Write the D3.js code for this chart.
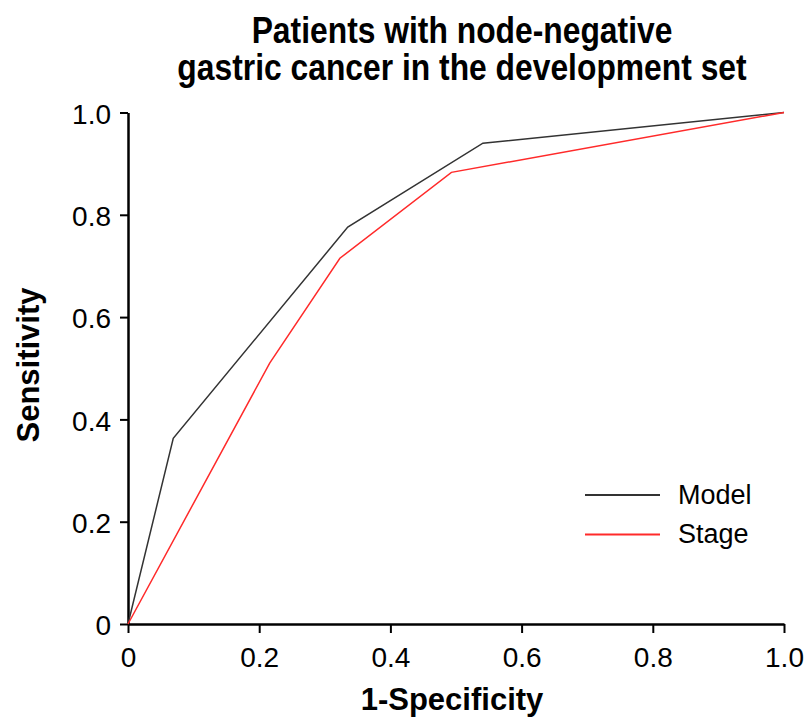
<!DOCTYPE html>
<html><head><meta charset="utf-8">
<script src="https://cdn.jsdelivr.net/npm/d3@7"></script>
<style>body{margin:0;background:#fff;} text{font-family:"Liberation Sans",Arial,sans-serif;}</style>
</head><body><svg id="c" width="804" height="717"></svg>
<script>
const titleLines = ["Patients with node-negative", "gastric cancer in the development set"];
const xTicks = [0, 0.2, 0.4, 0.6, 0.8, 1.0];
const yTicks = [0, 0.2, 0.4, 0.6, 0.8, 1.0];
const modelFPR = [0, 0.069, 0.335, 0.541, 1.0];
const modelTPR = [0, 0.363, 0.776, 0.940, 1.0];
const stageFPR = [0, 0.216, 0.323, 0.493, 1.0];
const stageTPR = [0, 0.510, 0.715, 0.883, 1.0];
const seriesNames = ["Model", "Stage"];
const seriesColors = ["#333333", "#ff2a2a"];

const svg = d3.select("#c");
const x = d3.scaleLinear().domain([0, 1]).range([128, 784]);
const y = d3.scaleLinear().domain([0, 1]).range([624, 112.5]);

const fmt = d => d === 0 ? "0" : d3.format(".1f")(d);

const xAxis = svg.append("g").attr("transform", "translate(0,624)")
  .call(d3.axisBottom(x).tickValues(xTicks).tickFormat(fmt).tickSize(9).tickSizeOuter(0));
const yAxis = svg.append("g").attr("transform", "translate(128,0)")
  .call(d3.axisLeft(y).tickValues(yTicks).tickFormat(fmt).tickSize(8).tickSizeOuter(0));
[xAxis, yAxis].forEach(a => {
  a.selectAll("path.domain").attr("stroke", "#000").attr("stroke-width", 2.5);
  a.selectAll(".tick line").attr("stroke", "#000").attr("stroke-width", 2);
  a.selectAll(".tick text").attr("fill", "#000").style("font-size", "28px");
});
xAxis.selectAll(".tick text").attr("y", 43).attr("dy", 0);
yAxis.selectAll(".tick text").attr("x", -17).attr("dy", "0.38em");

const series = [
  {name: seriesNames[0], xs: modelFPR, ys: modelTPR, color: seriesColors[0]},
  {name: seriesNames[1], xs: stageFPR, ys: stageTPR, color: seriesColors[1]}
];
const line = d3.line().x(d => x(d[0])).y(d => y(d[1]));
series.forEach(s => {
  svg.append("path").datum(s.xs.map((v, i) => [v, s.ys[i]]))
    .attr("d", line).attr("fill", "none").attr("stroke", s.color).attr("stroke-width", 1.5);
});

// legend
series.forEach((s, i) => {
  const ly = 495 + i * 39.5;
  svg.append("line").attr("x1", 585).attr("x2", 660).attr("y1", ly).attr("y2", ly)
    .attr("stroke", s.color).attr("stroke-width", 2.2);
  svg.append("text").attr("x", 678).attr("y", ly + 8.5).style("font-size", "27px").attr("fill", "#000").text(s.name);
});

// title (condensed bold)
const tg = svg.append("g").attr("transform", "translate(462,0) scale(0.86,1)");
tg.selectAll("text").data(titleLines).join("text")
  .attr("text-anchor", "middle").attr("x", 0).attr("y", (d, i) => 43 + i * 37)
  .style("font-size", "37px").style("font-weight", "bold").text(d => d);

svg.append("text").attr("text-anchor", "middle").attr("x", 452).attr("y", 710)
  .style("font-size", "31px").style("font-weight", "bold").text("1-Specificity");
svg.append("text").attr("text-anchor", "middle")
  .attr("transform", "translate(39,365) rotate(-90)")
  .style("font-size", "31px").style("font-weight", "bold").text("Sensitivity");
</script></body></html>
